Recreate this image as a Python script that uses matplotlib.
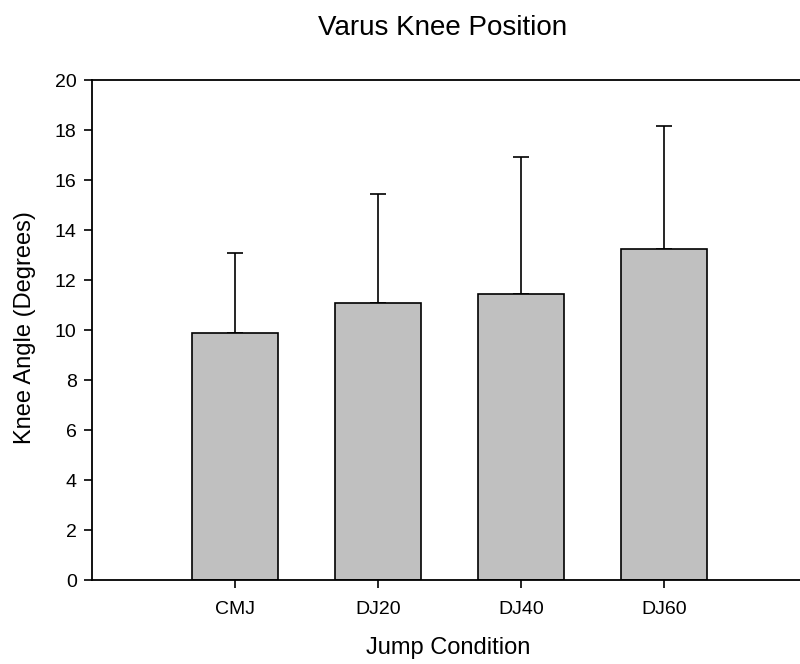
import numpy as np
import matplotlib.pyplot as plt

plt.rcParams['font.family'] = ['Liberation Sans', 'DejaVu Sans']

# data
conditions = ['CMJ', 'DJ20', 'DJ40', 'DJ60']
mean_angle = [9.87, 11.07, 11.43, 13.24]
sd_angle = [3.23, 4.37, 5.50, 4.92]

fig = plt.figure(figsize=(8, 6.64), dpi=100)
ax = fig.add_axes([0.115, 0.1265, 0.894, 0.753])

x = np.arange(len(conditions))
ax.bar(x, mean_angle, width=0.6, color='#c0c0c0', edgecolor='black', linewidth=1.2, zorder=2)
ax.errorbar(x, mean_angle, yerr=[np.zeros(len(x)), sd_angle], fmt='none',
            ecolor='black', elinewidth=1.2, capsize=6, capthick=1.2, zorder=1)

ax.set_xlim(-1, 4)
ax.set_ylim(0, 20)
ax.set_yticks(np.arange(0, 21, 2))
ax.set_xticks(x)
ax.set_xticklabels(conditions)

ax.spines['right'].set_visible(False)
for s in ['left', 'bottom', 'top']:
    ax.spines[s].set_linewidth(1.3)
ax.tick_params(axis='both', direction='out', length=6, width=1.2, labelsize=14)
ax.tick_params(axis='y', pad=5)
ax.tick_params(axis='x', pad=9)

# axis titles and chart title placed in figure coords
fig.text(448 / 800, 1 - 648 / 664, 'Jump Condition', fontsize=17, ha='center', va='center')
fig.text(25 / 800, 1 - 328 / 664, 'Knee Angle (Degrees)', fontsize=17, rotation=90,
         ha='center', va='center')
fig.text(443 / 800, 1 - 28 / 664, 'Varus Knee Position', fontsize=20, ha='center', va='center')

fig.savefig('out.png', dpi=100)
